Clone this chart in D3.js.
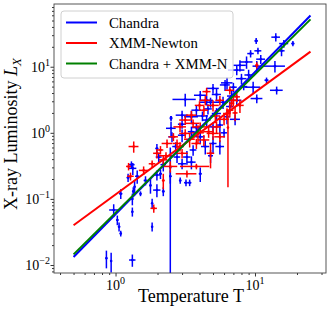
<!DOCTYPE html>
<html>
<head>
<meta charset="utf-8">
<script src="https://cdn.jsdelivr.net/npm/d3@7"></script>
<style>
  body { margin: 0; background: #fff; }
  svg { display: block; }
  text { font-family: "Liberation Serif", "Times New Roman", serif; fill: #000; }
</style>
</head>
<body>
<div id="chart"></div>
<script>
// Chandra clusters: temperature, luminosity and their (symmetric) errors
const chandraT = [10.2, 14.1, 16.1, 18.7, 15.5, 10.5, 9.3, 8.7, 7.8, 10.3, 13.9, 7.4, 12.1, 14.3, 10.3, 6.3, 5.0, 3.16, 4.05, 4.5,
    5.3, 6.1, 7.0, 8.0, 9.7, 7.4, 6.6, 6.3, 5.3, 5.6, 4.5, 5.0, 3.8, 3.5, 3.0, 2.5, 2.5, 2.54, 3.0, 3.5,
    4.05, 4.4, 5.0, 5.6, 3.6, 3.25, 2.76, 3.0, 3.5, 4.05, 3.2, 3.4, 2.91, 2.47, 2.2, 2.04, 1.98, 2.1, 1.78, 1.98,
    2.2, 1.83, 1.83, 1.33, 1.43, 1.64, 1.37, 1.34, 1.32, 1.32, 1.51, 1.09, 0.97, 1.03, 1.06, 1.09, 0.86, 0.93, 1.32, 2.47,
    1.98, 2.5, 4.8, 5.9, 6.8, 8.3, 9.0, 11.0, 6.0, 4.2, 3.8, 4.6, 7.2, 3.0, 2.7, 4.8, 1.30, 1.23];
const chandraL = [24.6, 28, 22.4, 22.4, 17.4, 17.4, 15.8, 11.8, 10.5, 10.2, 10.2, 8.9, 6.25, 4.4, 3.3, 5.7, 4.7, 3.2, 3.7, 3.1,
    3.8, 5.3, 4.9, 6.6, 4.9, 3.1, 2.5, 1.75, 1.96, 1.31, 1.56, 1.23, 2.2, 1.75, 1.85, 1.65, 1.17, 0.87, 0.92, 1.04,
    0.87, 0.62, 0.69, 0.62, 0.55, 0.43, 0.43, 0.34, 0.36, 0.24, 0.176, 0.176, 0.19, 0.22, 0.33, 0.43, 0.58, 0.24, 0.16, 0.136,
    0.13, 0.086, 0.038, 0.29, 0.22, 0.19, 0.153, 0.13, 0.1, 0.064, 0.12, 0.12, 0.068, 0.048, 0.038, 0.03, 0.0127, 0.0115, 0.0119, 0.3,
    0.23, 1.7, 2.9, 2.9, 3.6, 5.0, 7.5, 13.0, 1.0, 1.8, 1.2, 2.3, 1.6, 1.35, 0.62, 0.45, 0.33, 0.21];
const chandraTErr = [0.3, 1.0, 1.2, 0.5, 0.8, 0.6, 0.5, 0.9, 0.8, 0.7, 2.5, 1.0, 0.4, 1.5, 1.0, 0.6, 0.5, 0.6, 0.4, 0.5,
    0.4, 0.5, 0.4, 0.7, 1.2, 0.6, 0.4, 0.3, 0.4, 0.3, 0.3, 0.5, 0.3, 0.4, 0.3, 0.05, 0.2, 0.15, 0.2, 0.2,
    0.3, 0.3, 0.3, 0.4, 0.2, 0.2, 0.15, 0.2, 0.25, 0.1, 0.1, 0.1, 0.05, 0.05, 0.1, 0.1, 0.05, 0.05, 0.03, 0.12,
    0.05, 0.02, 0.02, 0.08, 0.05, 0.05, 0.02, 0.02, 0.02, 0.02, 0.02, 0.03, 0.07, 0.02, 0.02, 0.02, 0.01, 0.01, 0.07, 0.02,
    0.1, 0.03, 0.8, 0.5, 0.5, 0.5, 0.6, 0.8, 0.3, 0.4, 0.3, 0.3, 0.6, 0.2, 0.15, 0.2, 0.07, 0.03];
const chandraLErr = [2.5, 4, 3, 2, 3, 2, 2, 2.5, 2, 2, 2, 1.5, 0.6, 0.6, 0.5, 1.2, 0.8, 0.7, 0.6, 0.5,
    0.8, 1.0, 0.8, 1.2, 1.0, 0.6, 0.5, 0.4, 0.4, 0.5, 0.3, 0.2, 0.4, 0.4, 0.3, 0.15, 0.3, 0.15, 0.2, 0.2,
    0.2, 0.15, 0.2, 0.15, 0.1, 0.1, 0.08, 0.06, 0.08, 0.06, 0.02, 0.02, 0.02, 0.05, 0.07, 0.07, 0.1, 0.04, 0.04, 0.03,
    0.02, 0.015, 0.006, 0.06, 0.05, 0.03, 0.04, 0.02, 0.02, 0.01, 0.01, 0.02, 0.015, 0.008, 0.006, 0.003, 0.0038, 0.0038, 0.0025, 0.3,
    0.04, 0.1, 0.5, 0.6, 0.7, 0.6, 1.5, 2.0, 0.15, 0.3, 0.2, 0.4, 0.3, 0.2, 0.1, 0.1, 0.04, 0.03];

// XMM-Newton clusters
const xmmT = [1.35, 1.28, 1.24, 1.59, 1.88, 1.98, 2.2, 2.2, 2.1, 2.34, 2.76, 2.6, 3.16, 3.25, 3.8, 3.0, 2.9, 3.16, 3.5, 3.6,
    4.05, 4.3, 4.65, 5.0, 5.3, 5.6, 4.8, 3.8, 4.5, 4.4, 5.0, 4.3, 5.6, 6.6, 7.0, 6.6, 6.4, 7.8, 7.4, 10.3,
    6.3, 1.83, 2.47, 2.9, 3.4, 6.0, 5.2, 4.0, 7.2, 3.9, 2.3, 6.8];
const xmmL = [0.62, 0.22, 0.31, 0.27, 0.072, 0.49, 0.19, 0.39, 0.55, 0.69, 0.69, 0.87, 0.98, 0.24, 0.31, 0.49, 1.23, 1.56, 1.85, 1.39,
    1.23, 0.78, 1.04, 0.98, 1.23, 0.87, 0.49, 0.69, 4.2, 3.1, 2.6, 2.2, 3.1, 4.4, 3.1, 2.2, 1.2, 2.6, 3.5, 10.5,
    1.96, 0.34, 0.31, 0.62, 0.8, 1.6, 1.8, 2.6, 2.0, 1.0, 0.45, 2.8];
const xmmTErr = [0.11, 0.07, 0.05, 0.12, 0.1, 0.12, 0.05, 0.15, 0.1, 0.2, 0.2, 0.2, 0.3, 0.55, 0.9, 0.3, 0.3, 0.3, 0.3, 0.4,
    0.5, 0.4, 0.4, 0.5, 0.4, 0.5, 0.3, 0.3, 0.3, 0.4, 0.5, 0.3, 0.4, 0.5, 0.5, 0.4, 0.1, 0.5, 0.4, 0.3,
    0.4, 0.1, 0.3, 0.2, 0.3, 0.5, 0.4, 0.3, 0.3, 0.4, 0.25, 0.3];
const xmmLErr = [0.12, 0.03, 0.04, 0.04, 0.01, 0.08, 0.05, 0.06, 0.08, 0.1, 0.1, 0.12, 0.15, 0.03, 0.03, 0.08, 0.2, 0.25, 0.3, 0.2,
    0.2, 0.15, 0.2, 0.2, 0.25, 0.15, 0.2, 0.12, 0.6, 0.5, 0.5, 0.4, 0.5, 0.6, 0.6, 0.5, 1.05, 0.6, 0.6, 1.2,
    0.4, 0.04, 0.06, 0.1, 0.2, 0.3, 0.4, 0.4, 0.5, 0.3, 0.06, 0.4];

// power-law fits, evaluated at the ends of the temperature range
const fitT = [0.5, 25];
const chandraFit = [0.0132, 59.7];
const xmmFit = [0.040, 16.9];
const combinedFit = [0.0145, 52];

const legendLabels = ['Chandra', 'XMM-Newton', 'Chandra + XMM-N'];
const seriesColors = ['#0000ff', '#ff0000', '#008000'];

const margin = { top: 4, right: 8, bottom: 43, left: 54 };
const width = 334 - margin.left - margin.right;
const height = 316 - margin.top - margin.bottom;

const svg = d3.select('#chart')
    .append('svg')
    .attr('width', 334)
    .attr('height', 316)
    .append('g')
    .attr('transform', `translate(${margin.left},${margin.top})`);

const x = d3.scaleLog().domain([0.362, 32.3]).range([0, width]);
const y = d3.scaleLog().domain([0.00757, 88.9]).range([height, 0]);

svg.append('clipPath').attr('id', 'clip')
    .append('rect').attr('width', width).attr('height', height);

const plot = svg.append('g').attr('clip-path', 'url(#clip)');

function drawErrorbars(T, L, dT, dL, color) {
    const pts = T.map((t, i) => ({ t, l: L[i], dt: dT[i], dl: dL[i] }));
    const g = plot.append('g').attr('stroke', color).attr('stroke-width', 1.5);
    g.selectAll('.xerr').data(pts).enter().append('line')
        .attr('x1', d => x(Math.max(d.t - d.dt, 1e-3)))
        .attr('x2', d => x(d.t + d.dt))
        .attr('y1', d => y(d.l))
        .attr('y2', d => y(d.l));
    g.selectAll('.yerr').data(pts).enter().append('line')
        .attr('x1', d => x(d.t))
        .attr('x2', d => x(d.t))
        .attr('y1', d => y(Math.max(d.l - d.dl, 1e-5)))
        .attr('y2', d => y(d.l + d.dl));
    plot.append('g').selectAll('circle').data(pts).enter().append('circle')
        .attr('cx', d => x(d.t))
        .attr('cy', d => y(d.l))
        .attr('r', 1.3)
        .attr('fill', color);
}

drawErrorbars(chandraT, chandraL, chandraTErr, chandraLErr, seriesColors[0]);
drawErrorbars(xmmT, xmmL, xmmTErr, xmmLErr, seriesColors[1]);

[chandraFit, xmmFit, combinedFit].forEach((fit, i) => {
    plot.append('line')
        .attr('x1', x(fitT[0])).attr('y1', y(fit[0]))
        .attr('x2', x(fitT[1])).attr('y2', y(fit[1]))
        .attr('stroke', seriesColors[i])
        .attr('stroke-width', 2);
});

// axes: majors + minors on log scales
const xMajor = [1, 10];
const yMajor = [0.01, 0.1, 1, 10];
const xMinor = d3.range(-1, 2).flatMap(e => d3.range(2, 10).map(m => m * Math.pow(10, e)))
    .filter(v => v > x.domain()[0] && v < x.domain()[1]);
const yMinor = d3.range(-3, 2).flatMap(e => d3.range(2, 10).map(m => +(m * Math.pow(10, e)).toPrecision(3)))
    .filter(v => v > y.domain()[0] && v < y.domain()[1]);

function styleAxis(g) {
    g.select('.domain').remove();
    g.selectAll('line').attr('stroke', '#000').attr('stroke-width', 0.8);
    g.selectAll('text').remove();
}

svg.append('g').attr('transform', `translate(0,${height})`)
    .call(d3.axisBottom(x).tickValues(xMajor).tickSize(3.5)).call(styleAxis);
svg.append('g').attr('transform', `translate(0,${height})`)
    .call(d3.axisBottom(x).tickValues(xMinor).tickSize(2)).call(styleAxis);
svg.append('g')
    .call(d3.axisLeft(y).tickValues(yMajor).tickSize(3.5)).call(styleAxis);
svg.append('g')
    .call(d3.axisLeft(y).tickValues(yMinor).tickSize(2)).call(styleAxis);

const expOf = v => Math.round(Math.log10(v)).toString().replace('-', '\u2212');

xMajor.forEach(v => {
    const t = svg.append('text')
        .attr('x', x(v)).attr('y', height + 17)
        .attr('text-anchor', 'middle')
        .style('font-size', '14px');
    t.append('tspan').text('10');
    t.append('tspan').attr('dy', -6).style('font-size', '10px').text(expOf(v));
});

yMajor.forEach(v => {
    const t = svg.append('text')
        .attr('x', -4).attr('y', y(v) + 5)
        .attr('text-anchor', 'end')
        .style('font-size', '14px');
    t.append('tspan').text('10');
    t.append('tspan').attr('dy', -6).style('font-size', '10px').text(expOf(v));
});

// frame
svg.append('rect')
    .attr('width', width).attr('height', height)
    .attr('fill', 'none').attr('stroke', '#444').attr('stroke-width', 0.9);

// axis titles
svg.append('text')
    .attr('x', width / 2 + 1).attr('y', height + 29)
    .attr('text-anchor', 'middle')
    .style('font-size', '18px')
    .text('Temperature T');

const yl = svg.append('text')
    .attr('transform', `translate(${17 - margin.left},${130})rotate(-90)`)
    .attr('text-anchor', 'middle')
    .style('font-size', '18px');
yl.append('tspan').text('X-ray Luminosity ');
yl.append('tspan').style('font-style', 'italic').text('L');
yl.append('tspan').attr('dy', 4).style('font-style', 'italic').style('font-size', '13px').text('X');

// legend
const legend = svg.append('g').attr('transform', `translate(${61 - margin.left},${11 - margin.top})`);
legend.append('rect')
    .attr('width', 172).attr('height', 67).attr('rx', 3)
    .attr('fill', '#fff').attr('fill-opacity', 0.8)
    .attr('stroke', '#d0d0d0').attr('stroke-width', 1);
legendLabels.forEach((label, i) => {
    const ly = 11.5 + i * 20.5;
    legend.append('line')
        .attr('x1', 5).attr('x2', 36).attr('y1', ly).attr('y2', ly)
        .attr('stroke', seriesColors[i]).attr('stroke-width', 2);
    legend.append('text')
        .attr('x', 48).attr('y', ly + 5)
        .style('font-size', '14.8px')
        .text(label);
});
</script>
</body>
</html>
